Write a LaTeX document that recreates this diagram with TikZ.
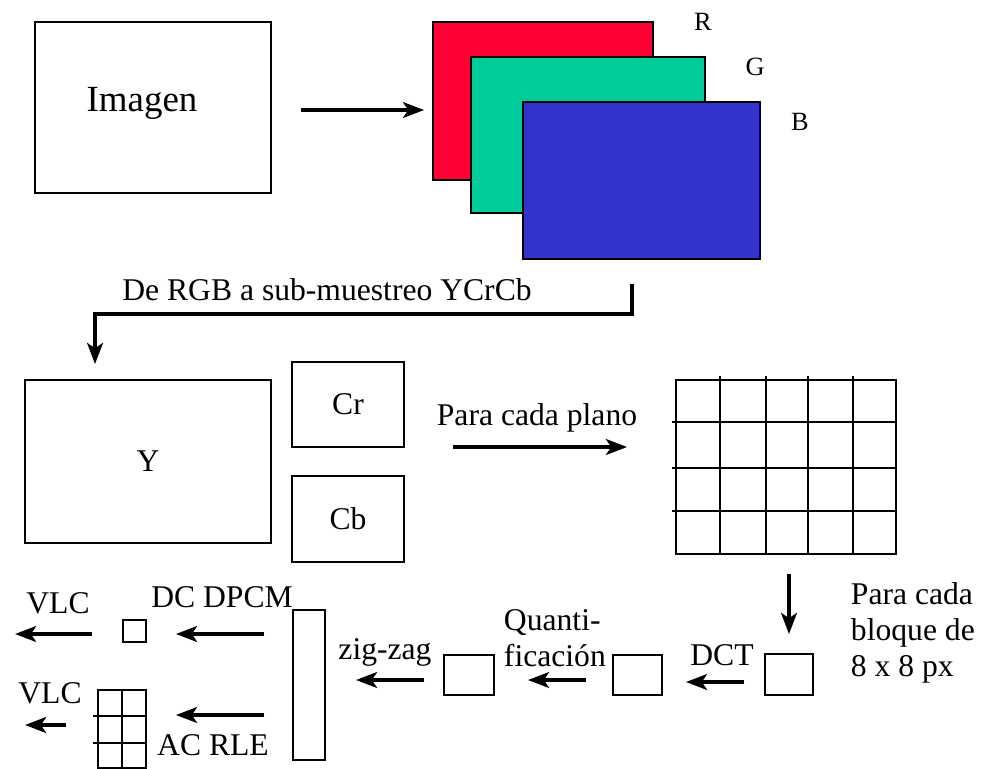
\documentclass[tikz,border=0pt]{standalone}
\usepackage{fontspec}
\setmainfont{Liberation Serif}
\usetikzlibrary{arrows.meta, positioning, calc}
\definecolor{cred}{HTML}{FF0033}
\definecolor{cgreen}{HTML}{00CC99}
\definecolor{cblue}{HTML}{3333CC}
\tikzset{
  every picture/.style={line width=1.1pt},
  box/.style={draw=black, fill=#1, inner sep=0pt, line width=1.1pt},
  box/.default=white,
  arrow/.style={-{Stealth[length=12pt, width=9pt, inset=3pt]}, draw=black, line width=2pt},
  label/.style={font=\fontsize{18}{20.5}\selectfont, inner sep=0pt},
  chan/.style={font=\fontsize{15}{17}\selectfont, inner sep=0pt},
}
\begin{document}
\begin{tikzpicture}[x=0.02cm, y=-0.02cm]
  \useasboundingbox (0,0) rectangle (982,768);
  % ---- top: image and its RGB planes ----
  \node[box, minimum width=4.72cm, minimum height=3.42cm] (img) at (153,107.5) {};
  \node[inner sep=0pt, font=\fontsize{21}{24}\selectfont] (imgtext) at (142,103) {Imagen};
  \node[box=cred, minimum width=4.4cm, minimum height=3.16cm] (R) at (543,101) {};
  \node[box=cgreen, minimum width=4.68cm, minimum height=3.12cm] (G) at (588,135) {};
  \node[box=cblue, minimum width=4.74cm, minimum height=3.14cm] (B) at (641.5,180.5) {};
  \node[chan] (lR) at (703,22) {R};
  \node[chan] (lG) at (755,67) {G};
  \node[chan] (lB) at (800,122) {B};
  \draw[arrow, shorten <=0.58cm, shorten >=0.16cm] (img.east |- 0,110) -- (R.west |- 0,110);
  % ---- colour conversion ----
  \node[label] (conv) at (327,290) {De RGB a sub-muestreo YCrCb};
  \node[box, minimum width=4.92cm, minimum height=3.26cm, label] (Y) at (148,461.5) {Y};
  \node[box, minimum width=2.24cm, minimum height=1.7cm, label] (Cr) at (348,404.5) {Cr};
  \node[box, minimum width=2.24cm, minimum height=1.72cm, label] (Cb) at (348,519) {Cb};
  \draw[arrow, shorten >=0.3cm] ([xshift=-0.19cm, yshift=-0.48cm]B.south) -- ++(0,30) -| ([xshift=-1.06cm]Y.north);
  % ---- split every plane into 8x8 blocks ----
  \node[label] (plane) at (537,418) {Para cada plano};
  \node[box, minimum width=4.4cm, minimum height=3.48cm] (blocks) at (786,467) {};
  \foreach \gx in {720,766,808,853} \draw (\gx,376) -- (\gx,554);
  \foreach \gy in {422,468,511} \draw (672,\gy) -- (896,\gy);
  \draw[arrow, shorten <=0.96cm, shorten >=0.96cm] (Cr.east |- 0,447) -- (blocks.west |- 0,447);
  % ---- bottom: per block chain, right to left ----
  \node[box, minimum width=0.96cm, minimum height=0.82cm] (blk) at (789,674.5) {};
  \node[label, anchor=west, align=left] (per) at (850,633) {Para cada\\bloque de\\8 x 8 px};
  \draw[arrow, shorten <=0.38cm, shorten >=0.38cm] (blocks.south -| blk) -- (blk.north);
  \node[box, minimum width=0.98cm, minimum height=0.8cm] (quant) at (637.5,675) {};
  \node[label] (dct) at (722,655) {DCT};
  \draw[arrow, shorten <=0.4cm, shorten >=0.46cm] (blk.west |- 0,682) -- (quant.east |- 0,682);
  \node[box, minimum width=1cm, minimum height=0.8cm] (zz) at (469,675) {};
  \node[label, anchor=west, align=left] (qlab) at (503,638) {Quanti-\\ficación};
  \draw[arrow, shorten <=0.52cm, shorten >=0.66cm] (quant.west |- 0,680) -- (zz.east |- 0,680);
  \node[box, minimum width=0.64cm, minimum height=3cm] (col) at (309,685) {};
  \node[label] (zzlab) at (385,652) {zig-zag};
  \draw[arrow, shorten <=0.38cm, shorten >=0.6cm] (zz.west |- 0,680) -- (col.east |- 0,680);
  % ---- DC and AC coefficients ----
  \node[box, minimum width=0.46cm, minimum height=0.44cm] (dc) at (134.5,631) {};
  \node[box, minimum width=0.96cm, minimum height=1.56cm] (ac) at (122,729) {};
  \draw (ac.north) -- (ac.south);
  \foreach \gy in {716,743} \draw (93,\gy) -- (ac.east |- 0,\gy);
  \node[label] (dclab) at (222,597) {DC DPCM};
  \node[label] (aclab) at (213,745) {AC RLE};
  \draw[arrow, shorten <=0.56cm, shorten >=0.58cm] (col.west |- 0,634) -- (dc.east |- 0,634);
  \draw[arrow, shorten <=0.56cm, shorten >=0.58cm] (col.west |- 0,715) -- (ac.east |- 0,715);
  \node[label] (vlc1) at (58,603) {VLC};
  \node[label] (vlc2) at (50,693) {VLC};
  \draw[arrow, shorten <=0.6cm] (dc.west |- 0,634) -- (15,634);
  \draw[arrow, line width=2.8pt, shorten <=0.62cm] (ac.west |- 0,725) -- (25,725);
\end{tikzpicture}
\end{document}
